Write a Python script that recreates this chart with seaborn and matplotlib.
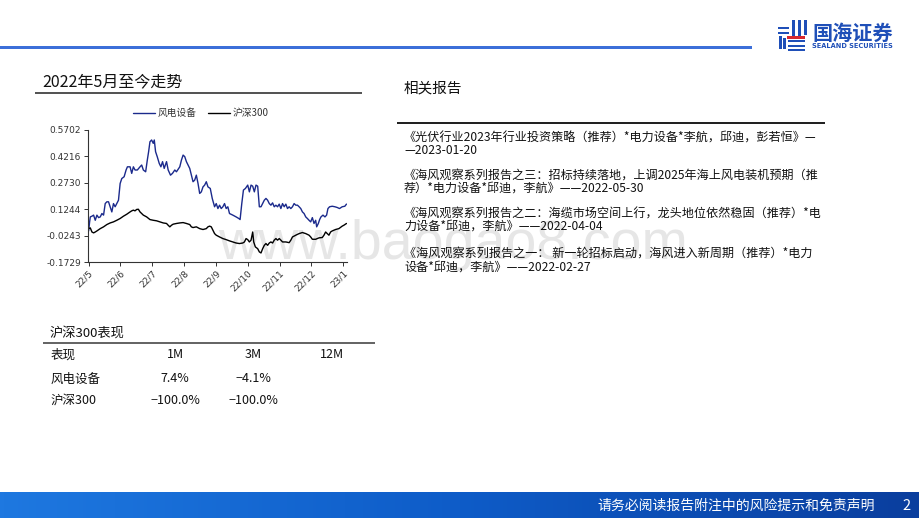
import numpy as np
import pandas as pd
import matplotlib
matplotlib.use("Agg")
import matplotlib.pyplot as plt
import seaborn as sns
from matplotlib.patches import Rectangle
from matplotlib.colors import LinearSegmentedColormap

# ---------------- data ----------------
# x: months elapsed since start of May 2022 (tick 0 = 22/5 ... tick 8 = 23/1)
wind_x = [0.000, 0.031, 0.052, 0.104, 0.156, 0.208, 0.260, 0.313, 0.365, 0.417,
          0.469, 0.521, 0.573, 0.625, 0.677, 0.729, 0.781, 0.833, 0.885, 0.938,
          0.990, 1.042, 1.115, 1.177, 1.219, 1.302, 1.354, 1.406, 1.458, 1.531,
          1.615, 1.667, 1.719, 1.792, 1.844, 1.885, 1.927, 1.979, 2.031, 2.063,
          2.104, 2.156, 2.219, 2.271, 2.323, 2.375, 2.448, 2.500, 2.573, 2.635,
          2.708, 2.760, 2.865, 2.917, 2.969, 3.021, 3.073, 3.125, 3.177, 3.229,
          3.281, 3.333, 3.385, 3.438, 3.490, 3.542, 3.594, 3.646, 3.698, 3.750,
          3.823, 3.885, 3.958, 4.010, 4.063, 4.115, 4.167, 4.219, 4.271, 4.323,
          4.375, 4.427, 4.531, 4.635, 4.719, 4.760, 4.813, 4.865, 4.927, 5.000,
          5.052, 5.104, 5.156, 5.208, 5.260, 5.313, 5.365, 5.417, 5.469, 5.521,
          5.573, 5.625, 5.677, 5.729, 5.781, 5.833, 5.885, 5.938, 5.990, 6.042,
          6.094, 6.146, 6.198, 6.250, 6.302, 6.354, 6.406, 6.458, 6.510, 6.563,
          6.615, 6.667, 6.719, 6.771, 6.823, 6.875, 6.927, 6.979, 7.031, 7.083,
          7.135, 7.167, 7.219, 7.260, 7.302, 7.365, 7.427, 7.479, 7.521, 7.573,
          7.656, 7.740, 7.813, 7.885, 7.969, 8.052, 8.104]
wind_y = [0.002, 0.053, 0.081, 0.085, 0.091, 0.062, 0.091, 0.077, 0.081, 0.100,
          0.091, 0.156, 0.166, 0.166, 0.138, 0.109, 0.156, 0.138, 0.156, 0.175,
          0.269, 0.297, 0.307, 0.345, 0.363, 0.363, 0.326, 0.363, 0.345, 0.345,
          0.363, 0.373, 0.345, 0.335, 0.401, 0.448, 0.504, 0.514, 0.495, 0.514,
          0.448, 0.420, 0.382, 0.363, 0.392, 0.354, 0.392, 0.345, 0.316, 0.326,
          0.345, 0.335, 0.363, 0.401, 0.429, 0.420, 0.392, 0.373, 0.354, 0.316,
          0.279, 0.288, 0.316, 0.269, 0.213, 0.222, 0.250, 0.260, 0.279, 0.250,
          0.241, 0.185, 0.138, 0.156, 0.128, 0.147, 0.128, 0.138, 0.156, 0.128,
          0.138, 0.100, 0.091, 0.081, 0.072, 0.066, 0.156, 0.232, 0.241, 0.260,
          0.222, 0.260, 0.254, 0.222, 0.260, 0.254, 0.138, 0.138, 0.156, 0.175,
          0.185, 0.175, 0.156, 0.147, 0.160, 0.138, 0.147, 0.138, 0.153, 0.128,
          0.156, 0.138, 0.153, 0.128, 0.138, 0.128, 0.138, 0.156, 0.147, 0.147,
          0.138, 0.128, 0.109, 0.100, 0.081, 0.072, 0.062, 0.053, 0.077, 0.044,
          0.062, 0.025, 0.044, 0.066, 0.081, 0.091, 0.081, 0.091, 0.128, 0.138,
          0.141, 0.138, 0.134, 0.128, 0.138, 0.141, 0.153]

hs_x = [0.000, 0.052, 0.104, 0.156, 0.208, 0.260, 0.365, 0.469, 0.573, 0.677,
        0.781, 0.885, 0.990, 1.094, 1.198, 1.302, 1.354, 1.406, 1.458, 1.510,
        1.563, 1.615, 1.719, 1.823, 1.927, 2.031, 2.135, 2.240, 2.344, 2.448,
        2.500, 2.552, 2.604, 2.656, 2.760, 2.865, 2.969, 3.073, 3.177, 3.229,
        3.281, 3.385, 3.490, 3.594, 3.698, 3.750, 3.802, 3.854, 3.906, 3.958,
        4.010, 4.115, 4.219, 4.323, 4.427, 4.531, 4.635, 4.740, 4.844, 4.896,
        4.948, 5.000, 5.052, 5.104, 5.156, 5.188, 5.240, 5.313, 5.365, 5.417,
        5.469, 5.521, 5.573, 5.625, 5.677, 5.729, 5.781, 5.833, 5.885, 5.938,
        5.990, 6.042, 6.094, 6.198, 6.302, 6.354, 6.406, 6.510, 6.615, 6.719,
        6.823, 6.927, 6.979, 7.031, 7.135, 7.240, 7.344, 7.396, 7.448, 7.500,
        7.552, 7.604, 7.656, 7.760, 7.865, 7.969, 8.021, 8.104]
hs_y = [0.015, 0.019, -0.004, -0.009, -0.004, 0.002, 0.015, 0.025, 0.038, 0.047,
        0.053, 0.062, 0.072, 0.085, 0.096, 0.109, 0.115, 0.119, 0.115, 0.123,
        0.124, 0.109, 0.091, 0.081, 0.066, 0.062, 0.059, 0.053, 0.047, 0.044,
        0.034, 0.025, 0.034, 0.040, 0.044, 0.047, 0.049, 0.044, 0.038, 0.025,
        0.021, 0.025, 0.015, 0.010, 0.015, 0.025, 0.029, 0.025, 0.006, -0.013,
        -0.022, -0.032, -0.041, -0.047, -0.054, -0.060, -0.066, -0.069, -0.066, -0.060,
        -0.041, -0.047, -0.060, -0.050, -0.004, -0.060, -0.088, -0.098, -0.116, -0.122,
        -0.098, -0.079, -0.069, -0.079, -0.066, -0.060, -0.066, -0.050, -0.041, -0.050,
        -0.041, -0.050, -0.060, -0.060, -0.064, -0.050, -0.032, -0.022, -0.013, -0.007,
        -0.013, -0.022, -0.032, -0.045, -0.045, -0.037, -0.035, -0.022, -0.004, -0.013,
        -0.022, -0.004, 0.002, 0.010, 0.015, 0.029, 0.034, 0.044]

series_names = ["风电设备", "沪深300"]
series_colors = ["#1B2A8C", "#000000"]
y_ticks = [-0.1729, -0.0243, 0.1244, 0.2730, 0.4216, 0.5702]
y_tick_labels = ["-0.1729", "-0.0243", "0.1244", "0.2730", "0.4216", "0.5702"]
x_tick_labels = ["22/5", "22/6", "22/7", "22/8", "22/9", "22/10", "22/11", "22/12", "23/1"]

chart_title = "2022年5月至今走势"
table_title = "沪深300表现"
table_header = ["表现", "1M", "3M", "12M"]
table_rows = [["风电设备", "7.4%", "−4.1%", ""],
              ["沪深300", "−100.0%", "−100.0%", ""]]

reports_title = "相关报告"
report_lines = [
    ["《光伏行业2023年行业投资策略（推荐）*电力设备*李航，邱迪，彭若恒》—",
     "—2023-01-20"],
    ["《海风观察系列报告之三：招标持续落地，上调2025年海上风电装机预期（推",
     "荐）*电力设备*邱迪，李航》——2022-05-30"],
    ["《海风观察系列报告之二：海缆市场空间上行，龙头地位依然稳固（推荐）*电",
     "力设备*邱迪，李航》——2022-04-04"],
    ["《海风观察系列报告之一： 新一轮招标启动，海风进入新周期（推荐）*电力",
     "设备*邱迪，李航》——2022-02-27"],
]
footer_text = "请务必阅读报告附注中的风险提示和免责声明"
page_no = "2"
watermark = "www.baogao8.com"

# ---------------- style ----------------
sns.set_theme(style="white")
plt.rcParams["font.family"] = ["Noto Sans CJK SC", "DejaVu Sans"]
plt.rcParams["axes.unicode_minus"] = False

W, H = 920, 518
fig = plt.figure(figsize=(9.2, 5.18), dpi=100)
fig.patch.set_facecolor("white")

def fx(px):
    return px / W

def fy(py):
    return 1 - py / H

# watermark (behind everything)
fig.text(fx(218), fy(259), watermark, fontsize=40, color="#e6e6e6",
         family="Liberation Sans", va="baseline", ha="left", zorder=-5)

# ---------------- header ----------------
fig.add_artist(Rectangle((0, fy(48.5)), fx(752), 3 / H, transform=fig.transFigure,
                         color="#3C6FD9", lw=0, zorder=1))
# logo icon
logo = fig.add_axes([fx(777), fy(51), fx(30), 33 / H])
logo.set_xlim(0, 30); logo.set_ylim(0, 33); logo.axis("off")
blue = "#1F4FB8"
for (x0, y0, w, h) in [(1, 22, 11, 2.4), (1, 17, 11, 2.4), (15, 14, 2.6, 17),
                       (21, 14, 2.6, 17), (27, 16, 2.6, 15), (2, 2, 2.6, 13),
                       (6, 2, 2.6, 11), (11, 9, 17, 2.4), (11, 4, 17, 2.0),
                       (11, 0.5, 17, 2.0)]:
    logo.add_patch(Rectangle((x0, y0), w, h, color=blue, lw=0))
logo.add_patch(Rectangle((10, 12.5), 18, 2.6, color="#D7282F", lw=0))
fig.text(fx(812), fy(40), "国海证券", fontsize=14.5, color="#1F4FB8",
         fontweight="bold", va="baseline", ha="left")
fig.text(fx(812), fy(48.5), "SEALAND SECURITIES", fontsize=4.8, color="#1F4FB8",
         fontweight="bold", va="baseline", ha="left", family="DejaVu Sans")

# ---------------- footer ----------------
fax = fig.add_axes([0, 0, 1, 26 / H])
grad = np.linspace(0, 1, 256).reshape(1, -1)
cmap = LinearSegmentedColormap.from_list("ft", ["#1E78E0", "#0E5CC8", "#0A3E9E"])
fax.imshow(grad, aspect="auto", cmap=cmap, extent=[0, 1, 0, 1])
fax.axis("off")
fig.text(fx(875), fy(506), footer_text, fontsize=10, color="white",
         ha="right", va="center", zorder=5)
fig.text(fx(907), fy(506), page_no, fontsize=10.5, color="white",
         ha="center", va="center", zorder=5)

# ---------------- left chart ----------------
fig.text(fx(42), fy(82), chart_title, fontsize=11.5, color="#111111",
         ha="left", va="center")
fig.add_artist(Rectangle((fx(35), fy(94)), fx(327), 1.5 / H, transform=fig.transFigure,
                         color="#555555", lw=0))

ax = fig.add_axes([fx(88), fy(262), fx(259), 132 / H])
ax.patch.set_alpha(0)
df = pd.concat([
    pd.DataFrame({"x": wind_x, "y": wind_y, "series": series_names[0]}),
    pd.DataFrame({"x": hs_x, "y": hs_y, "series": series_names[1]}),
], ignore_index=True)
sns.lineplot(data=df, x="x", y="y", hue="series", palette=series_colors,
             linewidth=1.0, ax=ax, sort=False, estimator=None, legend=True)
ax.set_xlim(-0.02, 8.12)
ax.set_ylim(y_ticks[0], y_ticks[-1])
ax.set_yticks(y_ticks)
ax.set_yticklabels(y_tick_labels, fontsize=6.5, color="#333333", family="DejaVu Sans")
ax.set_xticks(range(len(x_tick_labels)))
ax.set_xticklabels(x_tick_labels, fontsize=6.5, color="#333333", rotation=45,
                   ha="right", va="top", rotation_mode="anchor", family="DejaVu Sans")
ax.set_xlabel(""); ax.set_ylabel("")
for s in ["top", "right"]:
    ax.spines[s].set_visible(False)
for s in ["left", "bottom"]:
    ax.spines[s].set_color("#333333")
    ax.spines[s].set_linewidth(0.8)
ax.tick_params(axis="both", which="major", direction="out", length=3, width=0.7,
               color="#333333", pad=2, left=True, bottom=True)
ax.grid(False)
ax.legend_.remove()
handles, labels = ax.get_legend_handles_labels()
fig.legend(handles, labels, loc="center", bbox_to_anchor=(fx(201), fy(113)), ncol=2,
           frameon=False, fontsize=7, handlelength=2.2, columnspacing=1.2,
           handletextpad=0.3, labelcolor="#333333")

# ---------------- table ----------------
fig.text(fx(50), fy(333), table_title, fontsize=9.5, color="#111111", ha="left", va="center")
fig.add_artist(Rectangle((fx(43), fy(344)), fx(332), 2 / H, transform=fig.transFigure,
                         color="#666666", lw=0))
col_x = [51, 175, 253, 332]
row_y = [355, 379, 400]
rows = [table_header] + table_rows
for r, row in enumerate(rows):
    for c, val in enumerate(row):
        if not val:
            continue
        fig.text(fx(col_x[c]), fy(row_y[r]), val, fontsize=9, color="#111111",
                 ha="left" if c == 0 else "center", va="center")

# ---------------- related reports ----------------
fig.text(fx(404), fy(88), reports_title, fontsize=10.5, color="#111111",
         ha="left", va="center")
fig.add_artist(Rectangle((fx(397), fy(123.5)), fx(428), 1.2 / H, transform=fig.transFigure,
                         color="#222222", lw=0))
entry_y = [(138, 150), (176, 188), (214, 226), (254, 267)]
for (y1, y2), (l1, l2) in zip(entry_y, report_lines):
    fig.text(fx(404), fy(y1), l1, fontsize=8.7, color="#111111", ha="left", va="center")
    fig.text(fx(404), fy(y2), l2, fontsize=8.7, color="#111111", ha="left", va="center")

fig.savefig("out.png", dpi=100, facecolor="white")
